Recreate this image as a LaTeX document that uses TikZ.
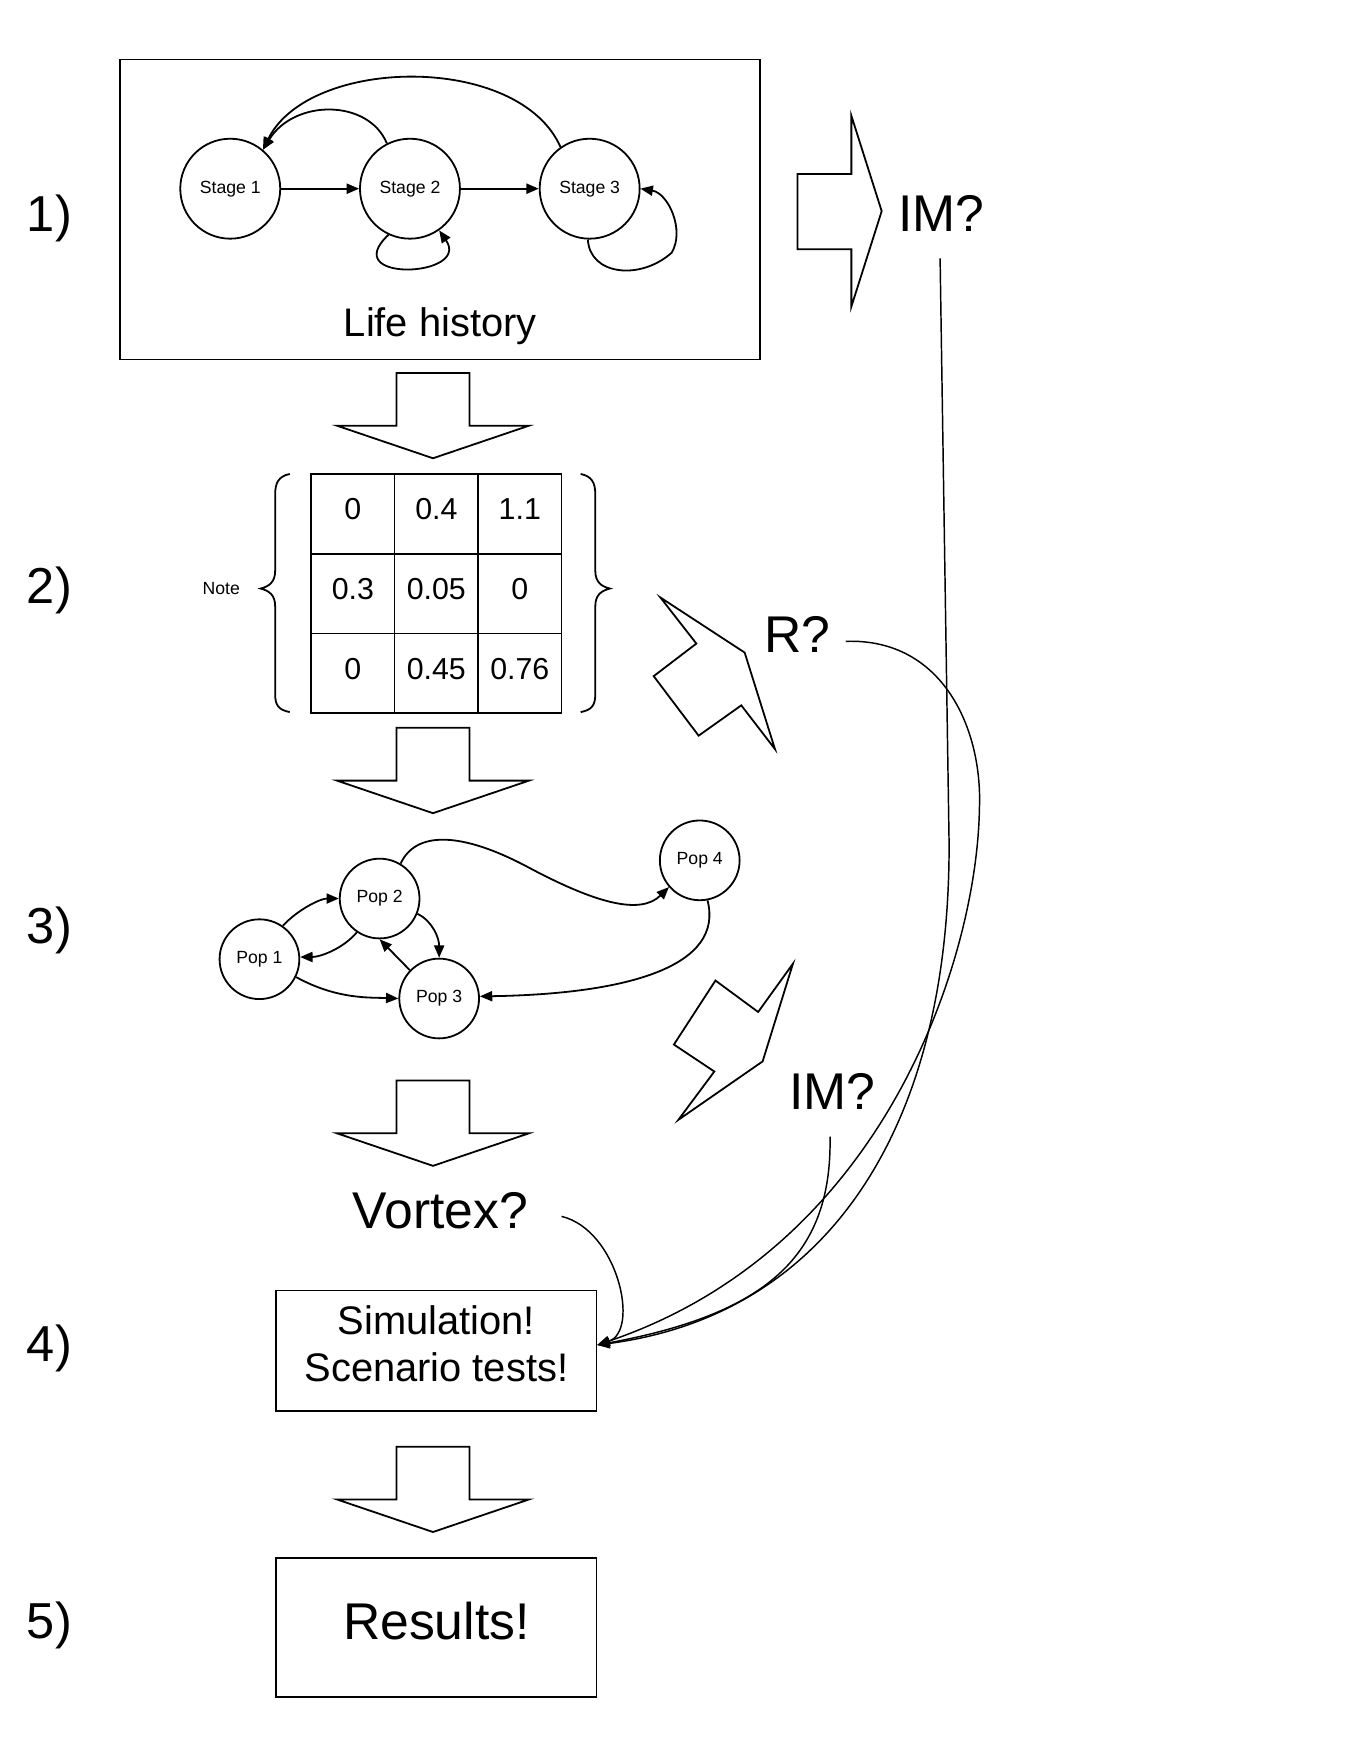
\documentclass[tikz,border=0pt]{standalone}
\usepackage{fontspec}
\setmainfont{Liberation Sans}
\usetikzlibrary{arrows.meta}
\tikzset{
  stage/.style={draw,circle,line width=1.6pt,minimum size=89pt,inner sep=0pt,font=\fontsize{15.7}{19}\selectfont},
  pop/.style={stage,minimum size=71pt},
  cell/.style={draw,line width=1.4pt,minimum width=74.3pt,minimum height=71pt,inner sep=0pt,text depth=8pt,font=\fontsize{27}{32}\selectfont},
  steplabel/.style={anchor=base,font=\fontsize{45}{54}\selectfont},
  bigtext/.style={font=\fontsize{46}{55}\selectfont},
  boxtext/.style={font=\fontsize{35.5}{42}\selectfont},
  link/.style={line width=1.6pt,-{Triangle[length=11pt,width=9pt]}},
  longlink/.style={line width=1.3pt,-{Triangle[length=11pt,width=9pt]}},
  blockarrow/.style={line width=1.6pt},
  pics/downarrow/.style={code={\draw[blockarrow] (-32.5,0) -- (32.5,0) -- (32.5,47) -- (85.5,47) -- (0,76) -- (-85.5,47) -- (-32.5,47) -- cycle;}}
}
\begin{document}
\begin{tikzpicture}[x=1pt,y=-1pt]
\useasboundingbox (0,0) rectangle (1211,1567);
\node[steplabel] (n1) at (44,206) {1)};
\node[steplabel] (n2) at (44,537) {2)};
\node[steplabel] (n3) at (44,840) {3)};
\node[steplabel] (n4) at (44,1212) {4)};
\node[steplabel] (n5) at (44,1459) {5)};
% life history
\node[draw,line width=1.6pt,minimum width=570pt,minimum height=267pt] (lhbox) at (392,186.5) {};
\node[boxtext,anchor=base] (lh) at (392,300) {Life history};
\node[stage] (s1) at (205,168) {Stage 1};
\node[stage] (s2) at (365,168) {Stage 2};
\node[stage] (s3) at (525,168) {Stage 3};
\draw[link] (s1) -- (s2);
\draw[link] (s2) -- (s3);
\draw[link] (s2.117) .. controls (328,88) and (262,88) .. (s1.50);
\draw[link] (s3.125) .. controls (462,47) and (275,50) .. (s1.50);
\draw[link] (s2.245) .. controls (300,252) and (420,247) .. (s2.305);
\draw[link] (s3.268) .. controls (525,245) and (570,250) .. (598,225) .. controls (610,205) and (595,172) .. (s3.0);
\draw[blockarrow] (710,155) -- (758,155) -- (758,103) -- (785,188) -- (758,273) -- (758,222) -- (710,222) -- cycle;
\node[bigtext,anchor=base] (im1) at (838,206) {IM?};
\coordinate (imout) at (837,230);
% matrix
\pic at (385.5,332) {downarrow};
\foreach \a/\b/\c [count=\r] in {0/0.4/1.1,0.3/0.05/0,0/0.45/0.76}{
  \node[cell] (m\r1) at (314.2,386.5+71*\r) {\a};
  \node[cell] (m\r2) at (388.5,386.5+71*\r) {\b};
  \node[cell] (m\r3) at (462.8,386.5+71*\r) {\c};
}
\draw[line width=1.6pt] (258,422) .. controls (248,424) and (245,430) .. (245,440) -- (245,508) .. controls (245,518) and (240,522) .. (232,524) .. controls (240,526) and (245,530) .. (245,540) -- (245,618) .. controls (245,628) and (248,632) .. (258,634);
\draw[line width=1.6pt] (517,422) .. controls (527,424) and (530,430) .. (530,440) -- (530,508) .. controls (530,518) and (535,522) .. (543,524) .. controls (535,526) and (530,530) .. (530,540) -- (530,618) .. controls (530,628) and (527,632) .. (517,634);
\node[font=\fontsize{15.7}{19}\selectfont] (note) at (197,524) {Note};
\draw[blockarrow] (588,532) -- (663,581) -- (690,667) -- (660,628) -- (622,655) -- (582,602) -- (620,573) -- cycle;
\node[bigtext,anchor=base] (rq) at (710,581) {R?};
\coordinate (rout) at (753,571);
% populations
\pic at (385.5,648) {downarrow};
\node[pop] (p1) at (231,854) {Pop 1};
\node[pop] (p2) at (338,800) {Pop 2};
\node[pop] (p3) at (391,889) {Pop 3};
\node[pop] (p4) at (623,766) {Pop 4};
\draw[link] (p1.55) .. controls (265,810) and (285,800) .. (p2.180);
\draw[link] (p2.236) .. controls (305,845) and (285,852) .. (p1.3);
\draw[link] (p1.-26) .. controls (300,890) and (330,888) .. (p3.180);
\draw[link] (p2.-22) .. controls (385,820) and (391,835) .. (p3.90);
\draw[link] (p3.136) -- (p2.270);
\draw[link] (p2.59) .. controls (370,740) and (410,740) .. (470,772) .. controls (530,804) and (570,815) .. (p4.221);
\draw[link] (p4.-79) .. controls (645,860) and (560,885) .. (p3.3);
\draw[blockarrow] (706,858) -- (679,945) -- (604,997) -- (636,954) -- (600,930) -- (637,873) -- (675,901) -- cycle;
\node[bigtext,anchor=base] (im2) at (741,988) {IM?};
\coordinate (im2out) at (739,1012);
% simulation and results
\pic at (385.5,962) {downarrow};
\node[bigtext,anchor=base] (vx) at (392,1094) {Vortex?};
\coordinate (vxout) at (500,1083);
\node[draw,line width=1.6pt,minimum width=285pt,minimum height=107pt,text depth=12pt,align=center,boxtext] (sim) at (388.5,1202.5) {Simulation!\\Scenario tests!};
\draw[longlink] (imout) -- (845,750) .. controls (846,1000) and (740,1170) .. ([yshift=5pt]sim.east);
\draw[longlink] (rout) .. controls (840,568) and (875,650) .. (872,720) .. controls (870,850) and (790,1110) .. ([yshift=5pt]sim.east);
\draw[longlink] (im2out) .. controls (741,1120) and (680,1170) .. ([yshift=5pt]sim.east);
\draw[longlink] (vxout) .. controls (550,1095) and (570,1185) .. ([yshift=5pt]sim.east);
\pic at (385.5,1288) {downarrow};
\node[draw,line width=1.6pt,minimum width=285pt,minimum height=124pt,text depth=12pt,bigtext] (res) at (388.5,1449) {Results!};
\end{tikzpicture}
\end{document}
